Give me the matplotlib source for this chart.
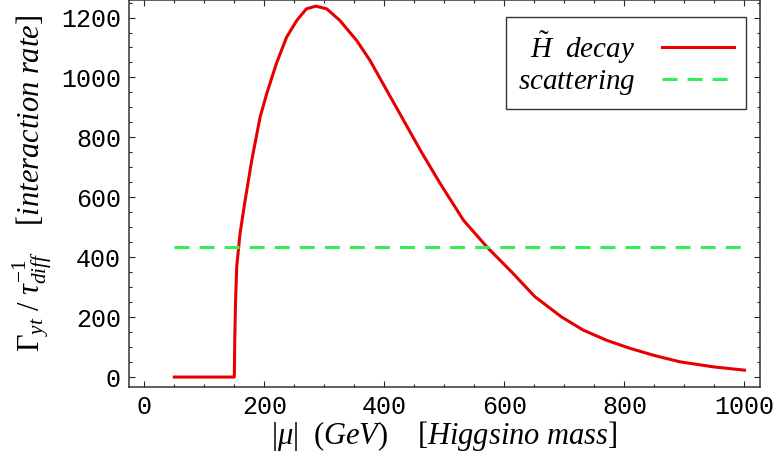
import matplotlib
matplotlib.use('Agg')
import matplotlib.pyplot as plt
from matplotlib.ticker import MultipleLocator

plt.rcParams['mathtext.fontset'] = 'custom'
plt.rcParams['mathtext.rm'] = 'Liberation Serif'
plt.rcParams['mathtext.it'] = 'Liberation Serif:italic'
plt.rcParams['mathtext.bf'] = 'Liberation Serif:bold'

# Higgsino mass |mu| (GeV) vs interaction rate
mu = [50, 150, 150.7, 152, 154, 159.5, 168, 179, 193, 204, 220, 237, 254, 270,
      286, 304, 326, 354, 376, 404, 432, 460, 493, 532, 571, 612, 651, 695,
      731, 770, 809, 848, 892, 948, 1000]
decay_rate = [0, 0, 120, 250, 368, 479, 590, 723, 868, 946, 1046, 1134, 1190,
              1229, 1238, 1229, 1190, 1123, 1057, 957, 857, 757, 646, 523, 434,
              351, 268, 201, 157, 123, 96, 73, 51, 34, 23]

scatter_mu = [50, 1000]
scatter_rate = [433, 433]

fig = plt.figure(figsize=(7.79, 4.57), dpi=100)
ax = fig.add_axes([0.166, 0.154, 0.8096, 0.845])

ax.plot(mu, decay_rate, color='#e60000', lw=2.2, solid_joinstyle='round',
        label=r'$\tilde{H}\ \ decay$')
ax.plot(scatter_mu, scatter_rate, color='#33ee55', lw=2.2,
        dashes=(4.9, 3.3), label=r'$scattering$')

ax.set_xlim(-25, 1026)
ax.set_ylim(-32, 1257)

ax.xaxis.set_major_locator(MultipleLocator(200))
ax.xaxis.set_minor_locator(MultipleLocator(50))
ax.yaxis.set_major_locator(MultipleLocator(200))
ax.yaxis.set_minor_locator(MultipleLocator(50))
ax.tick_params(which='both', direction='in', top=True, right=True,
               color='#222222', width=0.8)
ax.tick_params(which='major', length=4.5, labelsize=18, pad=6)
ax.tick_params(which='minor', length=2.5)
for lab in ax.get_xticklabels() + ax.get_yticklabels():
    lab.set_family('Liberation Mono')
for sp in ax.spines.values():
    sp.set_color('#333333')
    sp.set_linewidth(1.1)

ax.set_xlabel(r'$|\mu|\ \ (GeV)\quad\ [Higgsino\ mass]$', fontsize=22, labelpad=0)
ax.set_ylabel(r'$\Gamma_{yt}\ /\ \tau_{diff}^{-1}\quad\ [interaction\ rate]$',
              fontsize=22)
ax.yaxis.set_label_coords(-0.12, 0.525)

leg = ax.legend(loc='upper right', bbox_to_anchor=(0.978, 0.956),
                markerfirst=False, fontsize=21, frameon=True, fancybox=False,
                edgecolor='black', handlelength=2.5, handletextpad=0.9,
                labelspacing=0.05, borderpad=0.4, borderaxespad=0.0)
leg.get_frame().set_linewidth(1.0)

fig.savefig('out.png', dpi=100)
